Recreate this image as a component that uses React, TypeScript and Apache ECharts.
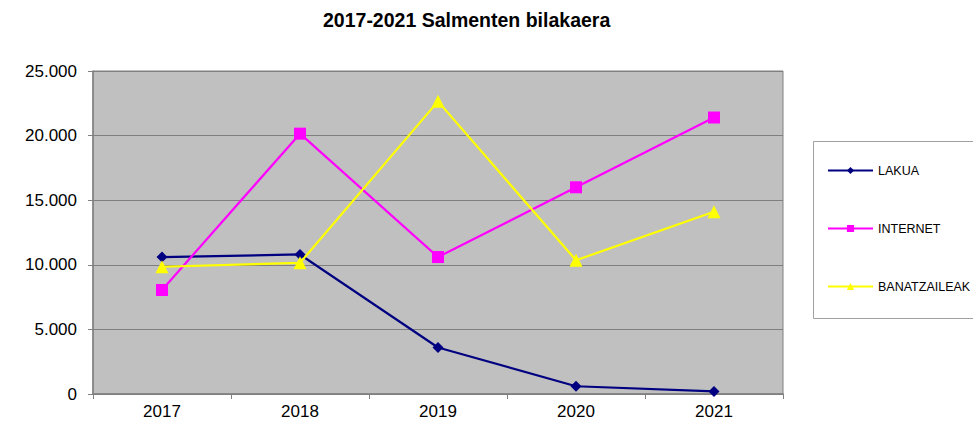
import React, { useEffect, useRef } from "react";
import * as echarts from "echarts";

const categories = ["2017", "2018", "2019", "2020", "2021"];
const lakua = [10600, 10800, 3600, 600, 200];
const internet = [8050, 20150, 10600, 16000, 21400];
const banatzaileak = [9850, 10150, 22650, 10350, 14100];
const seriesNames = ["LAKUA", "INTERNET", "BANATZAILEAK"];

function fmt(v: number): string {
  if (v === 0) return "0";
  const s = String(Math.round(v));
  return s.replace(/\B(?=(\d{3})+(?!\d))/g, ".");
}

export default function App() {
  const ref = useRef<HTMLDivElement>(null);
  useEffect(() => {
    if (!ref.current) return;
    const chart = echarts.init(ref.current, undefined, { renderer: "svg" });
    const font = "'Liberation Sans', Arial, sans-serif";
    chart.setOption({
      animation: false,
      backgroundColor: "#ffffff",
      textStyle: { fontFamily: font },
      title: {
        text: "2017-2021 Salmenten bilakaera",
        left: 318,
        top: 5,
        textStyle: { fontFamily: font, fontSize: 19.5, fontWeight: "bold", color: "#000" },
      },
      graphic: [
        {
          type: "rect",
          shape: { x: 813.5, y: 141.5, width: 170, height: 177 },
          style: { fill: "#ffffff", stroke: "#a0a0a0", lineWidth: 1 },
          z: 0,
        },
      ],
      legend: {
        orient: "vertical",
        left: 822,
        top: 159,
        itemWidth: 45,
        itemHeight: 9,
        itemGap: 45,
        data: seriesNames,
        textStyle: { fontFamily: font, fontSize: 12.5, color: "#000" },
        z: 5,
      },
      grid: {
        left: 93,
        right: 190,
        top: 71,
        bottom: 32,
        show: true,
        backgroundColor: "#c0c0c0",
        borderColor: "#808080",
        borderWidth: 1,
      },
      xAxis: {
        type: "category",
        data: categories,
        boundaryGap: true,
        axisLine: { show: true, lineStyle: { color: "#808080", width: 1.5 } },
        axisTick: { show: true, length: 5, alignWithLabel: false, lineStyle: { color: "#808080" } },
        axisLabel: { fontFamily: font, fontSize: 17, color: "#000", margin: 9 },
        splitLine: { show: false },
      },
      yAxis: {
        type: "value",
        min: 0,
        max: 25000,
        interval: 5000,
        axisLine: { show: true, lineStyle: { color: "#808080", width: 1.5 } },
        axisTick: { show: true, length: 5, lineStyle: { color: "#808080" } },
        axisLabel: { fontFamily: font, fontSize: 17, color: "#000", margin: 16, formatter: (v: number) => fmt(v) },
        splitLine: { show: true, lineStyle: { color: "#7f7f7f", width: 1.2 } },
      },
      series: [
        {
          name: seriesNames[0],
          type: "line",
          data: lakua,
          color: "#000080",
          lineStyle: { width: 2.2, color: "#000080" },
          symbol: "diamond",
          symbolSize: 11,
          itemStyle: { color: "#000080" },
        },
        {
          name: seriesNames[1],
          type: "line",
          data: internet,
          color: "#ff00ff",
          lineStyle: { width: 2.2, color: "#ff00ff" },
          symbol: "rect",
          symbolSize: 12,
          itemStyle: { color: "#ff00ff" },
        },
        {
          name: seriesNames[2],
          type: "line",
          data: banatzaileak,
          color: "#ffff00",
          lineStyle: { width: 2.2, color: "#ffff00" },
          symbol: "triangle",
          symbolSize: 13,
          itemStyle: { color: "#ffff00" },
        },
      ],
    });
    return () => chart.dispose();
  }, []);
  return <div ref={ref} style={{ width: 973, height: 426, position: "absolute", left: 0, top: 0 }} />;
}
